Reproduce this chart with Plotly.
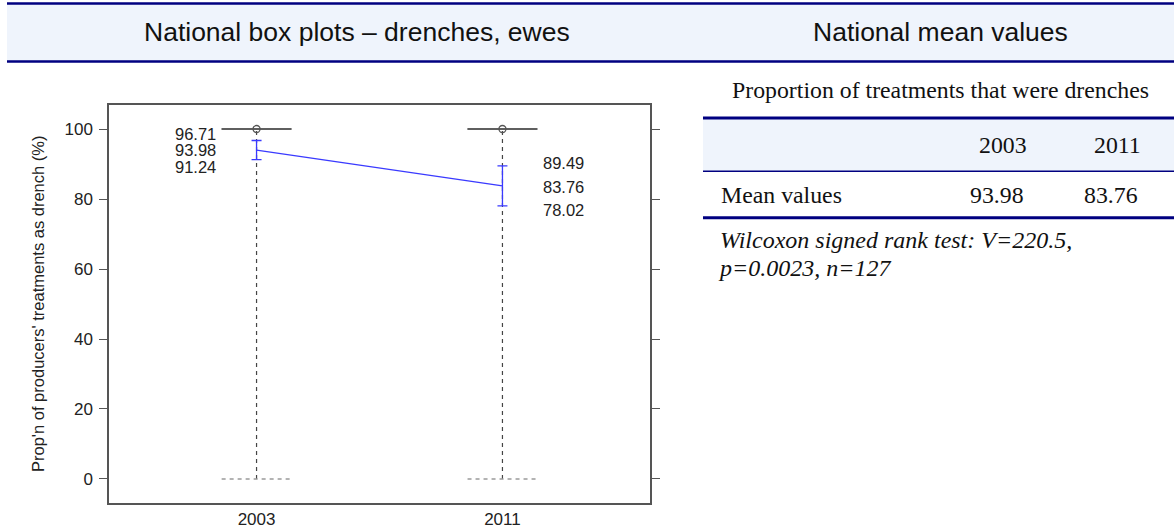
import plotly.graph_objects as go

# ---- data ----
years = ["2003", "2011"]
means = [93.98, 83.76]
ci_upper = [96.71, 89.49]
ci_lower = [91.24, 78.02]
box_low = [0, 0]        # lower whisker end
box_q1 = [100, 100]
box_median = [100, 100]
box_q3 = [100, 100]
box_high = [100, 100]   # upper whisker end
y_ticks = [0, 20, 40, 60, 80, 100]
table_cols = ["2003", "2011"]
table_row_label = "Mean values"
table_values = ["93.98", "83.76"]

W, H = 1174, 528
def PX(x): return x / W
def PY(y): return 1 - y / H

NAVY = "#000080"
BAND = "#eff4fc"
GRAY = "#555555"
SANS = "Liberation Sans, Arial"
SERIF = "Liberation Serif, Times New Roman"

fig = go.Figure()
xs = list(range(len(years)))
hw = 0.142  # box half-width (x units)

for i, x in enumerate(xs):
    # dashed whisker
    fig.add_trace(go.Scatter(x=[x, x], y=[box_low[i], box_q1[i]], mode="lines",
                             line=dict(color="#444444", width=1.2, dash="4px,4px"),
                             hoverinfo="skip", showlegend=False))
    # lower staple (dashed, light)
    fig.add_trace(go.Scatter(x=[x - hw, x + hw], y=[box_low[i], box_low[i]], mode="lines",
                             line=dict(color="#9a9a9a", width=1.5, dash="4px,4px"),
                             hoverinfo="skip", showlegend=False))
    # degenerate box (q1=median=q3)
    for v in (box_q1[i], box_q3[i]):
        fig.add_trace(go.Scatter(x=[x - hw, x + hw], y=[v, v], mode="lines",
                                 line=dict(color=GRAY, width=1.4),
                                 hoverinfo="skip", showlegend=False))
    # median point
    fig.add_trace(go.Scatter(x=[x], y=[box_median[i]], mode="markers",
                             marker=dict(symbol="circle-open", size=7, color=GRAY, line=dict(width=1.3)),
                             hoverinfo="skip", showlegend=False))

# mean line with CI
fig.add_trace(go.Scatter(
    x=xs, y=means, mode="lines",
    line=dict(color="#3a3aff", width=1.3),
    error_y=dict(type="data", symmetric=False,
                 array=[u - m for u, m in zip(ci_upper, means)],
                 arrayminus=[m - l for m, l in zip(means, ci_lower)],
                 color="#3a3aff", thickness=1.3, width=5),
    hoverinfo="skip", showlegend=False))

annotations = []
# value labels
shifts_2003 = [7, 0, -7]
for val, ys in zip([ci_upper[0], means[0], ci_lower[0]], shifts_2003):
    annotations.append(dict(x=xs[0], y=val, xref="x", yref="y", text=f"{val:.2f}",
                            showarrow=False, xanchor="right", yanchor="middle",
                            xshift=-40, yshift=ys, borderpad=0,
                            font=dict(family=SANS, size=16.5, color="#222")))
shifts_2011 = [3, -1, -4]
for val, ys in zip([ci_upper[1], means[1], ci_lower[1]], shifts_2011):
    annotations.append(dict(x=xs[1], y=val, xref="x", yref="y", text=f"{val:.2f}",
                            showarrow=False, xanchor="left", yanchor="middle",
                            xshift=40, yshift=ys, borderpad=0,
                            font=dict(family=SANS, size=16.5, color="#222")))

# y-axis title
annotations.append(dict(x=PX(38), y=PY(304), xref="paper", yref="paper",
                        text="Prop'n of producers' treatments as drench (%)",
                        textangle=-90, showarrow=False, xanchor="center", yanchor="middle",
                        font=dict(family=SANS, size=16.5, color="#222")))

# header texts
annotations.append(dict(x=PX(357), y=PY(32), xref="paper", yref="paper",
                        text="National box plots – drenches, ewes", showarrow=False,
                        xanchor="center", yanchor="middle",
                        font=dict(family=SANS, size=26.5, color="#111")))
annotations.append(dict(x=PX(940), y=PY(32), xref="paper", yref="paper",
                        text="National mean values", showarrow=False,
                        xanchor="center", yanchor="middle",
                        font=dict(family=SANS, size=26.5, color="#111")))

annotations.append(dict(x=PX(940), y=PY(90), xref="paper", yref="paper",
                        text="Proportion of treatments that were drenches", showarrow=False,
                        xanchor="center", yanchor="middle",
                        font=dict(family=SERIF, size=23.8, color="#111")))
col_right = [1029, 1143]
for c, xr in zip(table_cols, col_right):
    annotations.append(dict(x=PX(xr), y=PY(145), xref="paper", yref="paper", text=c,
                            showarrow=False, xanchor="right", yanchor="middle",
                            font=dict(family=SERIF, size=23.8, color="#111")))
annotations.append(dict(x=PX(719), y=PY(195), xref="paper", yref="paper", text=table_row_label,
                        showarrow=False, xanchor="left", yanchor="middle",
                        font=dict(family=SERIF, size=23.8, color="#111")))
for v, xr in zip(table_values, col_right):
    annotations.append(dict(x=PX(xr - 3), y=PY(195), xref="paper", yref="paper", text=v,
                            showarrow=False, xanchor="right", yanchor="middle",
                            font=dict(family=SERIF, size=23.8, color="#111")))
annotations.append(dict(x=PX(718), y=PY(240), xref="paper", yref="paper",
                        text="<i>Wilcoxon signed rank test: V=220.5,</i>",
                        showarrow=False, xanchor="left", yanchor="middle",
                        font=dict(family=SERIF, size=24, color="#111")))
annotations.append(dict(x=PX(716), y=PY(268), xref="paper", yref="paper",
                        text="<i>p=0.0023, n=127</i>",
                        showarrow=False, xanchor="left", yanchor="middle",
                        font=dict(family=SERIF, size=24, color="#111")))

shapes = [
    # header band
    dict(type="rect", xref="paper", yref="paper", x0=PX(7), x1=1, y0=PY(61), y1=PY(4),
         fillcolor=BAND, line=dict(width=0), layer="below"),
    dict(type="line", xref="paper", yref="paper", x0=PX(7), x1=1, y0=PY(3.5), y1=PY(3.5),
         line=dict(color=NAVY, width=2.5)),
    dict(type="line", xref="paper", yref="paper", x0=PX(7), x1=1, y0=PY(61.5), y1=PY(61.5),
         line=dict(color=NAVY, width=2.5)),
    # table header fill
    dict(type="rect", xref="paper", yref="paper", x0=PX(703), x1=1, y0=PY(171), y1=PY(118),
         fillcolor=BAND, line=dict(width=0), layer="below"),
    dict(type="line", xref="paper", yref="paper", x0=PX(703), x1=1, y0=PY(118), y1=PY(118),
         line=dict(color=NAVY, width=3)),
    dict(type="line", xref="paper", yref="paper", x0=PX(703), x1=1, y0=PY(171.3), y1=PY(171.3),
         line=dict(color=NAVY, width=1.5)),
    dict(type="line", xref="paper", yref="paper", x0=PX(703), x1=1, y0=PY(217.7), y1=PY(217.7),
         line=dict(color=NAVY, width=3)),
]

fig.update_layout(
    width=W, height=H,
    margin=dict(l=0, r=0, t=0, b=0, autoexpand=False),
    paper_bgcolor="white", plot_bgcolor="white",
    showlegend=False,
    annotations=annotations, shapes=shapes,
    xaxis=dict(domain=[PX(109), PX(650)], range=[-0.6, 1.6], automargin=False,
               tickvals=xs, ticktext=years, ticks="",
               showgrid=False, zeroline=False,
               showline=True, linecolor=GRAY, linewidth=1.5, mirror=True,
               ticklabelstandoff=0,
               tickfont=dict(family=SANS, size=17, color="#222")),
    yaxis=dict(domain=[PY(503), PY(105)], range=[-6.86, 106.86], automargin=False,
               tickvals=y_ticks, ticks="outside", ticklen=8, tickcolor=GRAY, tickwidth=1.2,
               showgrid=False, zeroline=False,
               showline=True, linecolor=GRAY, linewidth=1.5, mirror="ticks",
               ticklabelstandoff=3,
               tickfont=dict(family=SANS, size=17, color="#222")),
)

fig.write_html("out.html", config={"displayModeBar": False},
               post_script="document.body.style.margin='0px';document.body.style.overflow='hidden';")
